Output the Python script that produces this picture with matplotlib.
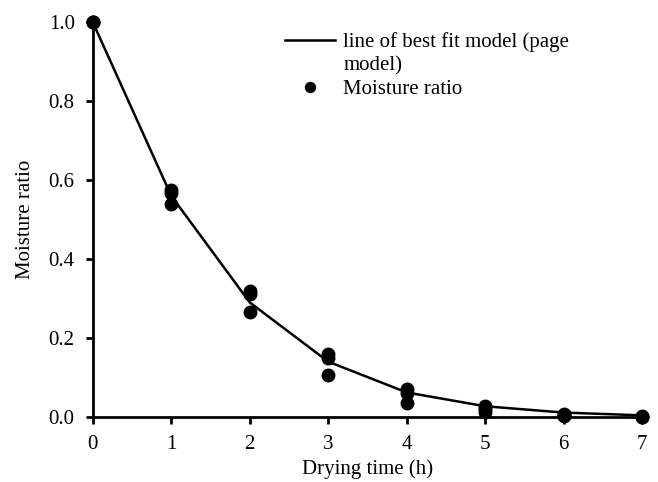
import matplotlib.pyplot as plt
from matplotlib.lines import Line2D
import numpy as np

plt.rcParams['font.family'] = ['Liberation Serif', 'DejaVu Serif']
plt.rcParams['font.size'] = 15

# datos
tiempo = [0, 1, 2, 3, 4, 5, 6, 7]
mr_rep1 = [1.0, 0.575, 0.320, 0.159, 0.071, 0.028, 0.008, 0.002]
mr_rep2 = [1.0, 0.567, 0.311, 0.149, 0.061, 0.020, 0.005, 0.001]
mr_rep3 = [1.0, 0.539, 0.266, 0.106, 0.036, 0.013, 0.003, 0.001]
mr_modelo = [1.0, 0.560, 0.290, 0.140, 0.062, 0.027, 0.011, 0.004]

fig = plt.figure(figsize=(6.58, 4.82), dpi=100)
ax = fig.add_axes([0.141, 0.135, 0.835, 0.819])

linea, = ax.plot(tiempo, mr_modelo, color='black', lw=1.8)
t_all = tiempo * 3
mr_all = mr_rep1 + mr_rep2 + mr_rep3
puntos, = ax.plot(t_all, mr_all, 'o', color='black', ms=9, clip_on=False)

ax.set_xlim(0, 7)
ax.set_ylim(0, 1.0)
ax.set_xticks(range(0, 8))
ax.set_yticks(np.arange(0, 1.01, 0.2))
ax.set_yticklabels(['0.0', '0.2', '0.4', '0.6', '0.8', '1.0'])
ax.set_xlabel('Drying time (h)', labelpad=4)
ax.set_ylabel('Moisture ratio', labelpad=9.5)

for s in ['top', 'right']:
    ax.spines[s].set_visible(False)
for s in ['left', 'bottom']:
    ax.spines[s].set_linewidth(2)
ax.tick_params(direction='out', width=2, length=5, pad=8)

# leyenda con la etiqueta partida en dos renglones
vacio = Line2D([], [], color='none')
ax.legend([linea, vacio, puntos],
          ['line of best fit model (page', 'model)', 'Moisture ratio'],
          loc='upper left', bbox_to_anchor=(0.421, 0.951), bbox_transform=fig.transFigure,
          frameon=False, handlelength=2.4, handletextpad=0.38, labelspacing=0.2,
          borderaxespad=0, markerscale=0.8)

fig.savefig('out.png', dpi=100)
